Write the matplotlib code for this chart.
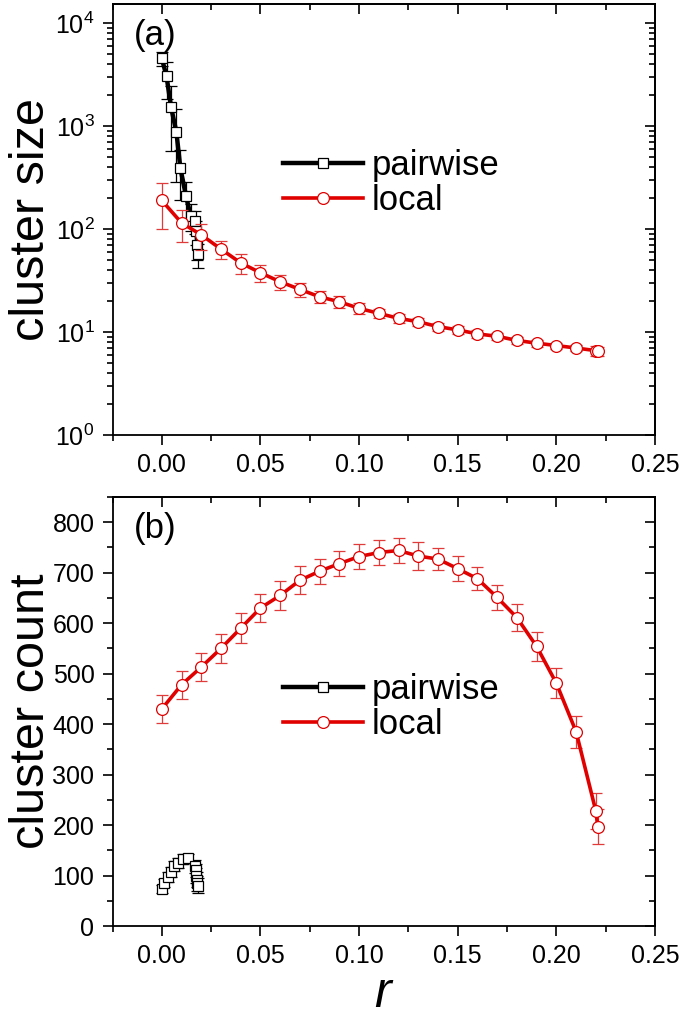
import matplotlib
matplotlib.use("Agg")
import matplotlib.pyplot as plt
from matplotlib.lines import Line2D
from matplotlib.ticker import MultipleLocator, LogLocator, NullFormatter

plt.rcParams['font.family'] = ['Liberation Sans', 'DejaVu Sans']
plt.rcParams['mathtext.fontset'] = 'custom'
plt.rcParams['mathtext.rm'] = 'Liberation Sans'
plt.rcParams['mathtext.it'] = 'Liberation Sans:italic'

# ---- data ----
local_r = [0.00, 0.01, 0.02, 0.03, 0.04, 0.05, 0.06, 0.07, 0.08, 0.09, 0.10, 0.11,
           0.12, 0.13, 0.14, 0.15, 0.16, 0.17, 0.18, 0.19, 0.20, 0.21, 0.22, 0.221]
local_size = [190, 115, 88, 64, 47, 37.7, 30.8, 26, 22, 19.7, 17, 15.2,
              13.6, 12.6, 11.3, 10.5, 9.6, 9.1, 8.3, 7.8, 7.4, 7.0, 6.6, 6.5]
local_size_err = [90, 40, 25, 13, 10, 7, 5, 4, 3, 2.5, 2, 1.6,
                  1.4, 1.2, 1.0, 0.9, 0.8, 0.7, 0.6, 0.6, 0.5, 0.5, 0.8, 0.6]
local_count = [430, 478, 513, 550, 590, 630, 655, 685, 703, 718, 732, 740,
               744, 733, 727, 708, 688, 651, 611, 554, 481, 385, 228, 197]
local_count_err = [28, 28, 28, 28, 30, 28, 28, 28, 25, 25, 25, 25,
                   25, 27, 21, 25, 23, 24, 27, 28, 30, 32, 35, 35]

pair_r_size = [0.0, 0.0024, 0.0047, 0.0074, 0.0094, 0.0123, 0.0146, 0.0169, 0.0175, 0.018, 0.0183]
pair_size = [4570, 3050, 1530, 875, 390, 209, 135, 120, 95, 70, 57]
pair_size_err = [700, 1200, 950, 590, 200, 80, 40, 30, 25, 20, 15]

pair_r_count = [0.0, 0.0013, 0.003, 0.0047, 0.0063, 0.0084, 0.0106, 0.0135, 0.0169,
                0.0172, 0.0175, 0.0178, 0.018, 0.0182]
pair_count = [73, 86, 97, 107, 118, 125, 133, 135, 118, 110, 100, 92, 85, 80]
pair_count_err = [8, 8, 10, 10, 10, 10, 10, 8, 12, 12, 15, 15, 15, 15]

W, H = 685, 1019
fig = plt.figure(figsize=(W / 100, H / 100), dpi=100)

def frac_axes(l, t, r, b):
    return [l / W, 1 - b / H, (r - l) / W, (b - t) / H]

ax1 = fig.add_axes(frac_axes(112.5, 4, 655, 435))
ax2 = fig.add_axes(frac_axes(112.5, 497, 655, 926))

RED = '#e00000'
ERR_RED = '#e03a3a'

for ax in (ax1, ax2):
    for s in ax.spines.values():
        s.set_linewidth(1.3)
    ax.tick_params(which='both', direction='out', top=False, right=False,
                   labelsize=18, width=1.2, pad=6)
    ax.tick_params(which='major', length=7)
    ax.tick_params(which='minor', length=4)

def draw(ax, lr, lv, le, pr, pv, pe, pair_line):
    ax.errorbar(pr, pv, yerr=pe, color='black', lw=3.2 if pair_line else 0,
                marker='s', ms=7, mfc='white', mec='black', mew=0.9,
                ecolor='black', elinewidth=0.9, capsize=4.5, capthick=0.9, zorder=3)
    ax.errorbar(lr, lv, yerr=le, color=RED, lw=2.6, marker='o', ms=8.5,
                mfc='white', mec=RED, mew=0.9, ecolor=ERR_RED, elinewidth=0.9,
                capsize=4.5, capthick=0.9, zorder=4)

draw(ax1, local_r, local_size, local_size_err, pair_r_size, pair_size, pair_size_err, True)
draw(ax2, local_r, local_count, local_count_err, pair_r_count, pair_count, pair_count_err, False)

for ax in (ax1, ax2):
    ax.set_xlim(-0.025, 0.25)
    ax.xaxis.set_major_locator(MultipleLocator(0.05))
    ax.xaxis.set_minor_locator(MultipleLocator(0.025))
    ax.xaxis.set_major_formatter(plt.FuncFormatter(lambda v, p: f"{v:.2f}"))

ax1.set_yscale('log')
ax1.set_ylim(1, 15400)
ax1.yaxis.set_major_locator(LogLocator(base=10, numticks=10))
ax1.yaxis.set_minor_locator(LogLocator(base=10, subs=range(2, 10), numticks=10))
ax1.yaxis.set_minor_formatter(NullFormatter())

ax2.set_ylim(0, 850)
ax2.yaxis.set_major_locator(MultipleLocator(100))
ax2.yaxis.set_minor_locator(MultipleLocator(50))

for ax in (ax1, ax2):
    sec_x = ax.secondary_xaxis('top')
    sec_x.xaxis.set_major_locator(MultipleLocator(0.05))
    sec_x.xaxis.set_minor_locator(MultipleLocator(0.025))
    sec_x.tick_params(which='both', direction='in', labeltop=False, width=1.2)
    sec_x.tick_params(which='major', length=7)
    sec_x.tick_params(which='minor', length=4)
    sec_x.spines['top'].set_linewidth(1.3)

sec_y1 = ax1.secondary_yaxis('right')
sec_y1.set_yscale('log')
sec_y1.yaxis.set_major_locator(LogLocator(base=10, numticks=10))
sec_y1.yaxis.set_minor_locator(LogLocator(base=10, subs=range(2, 10), numticks=10))
sec_y1.tick_params(which='both', direction='in', labelright=False, width=1.2)
sec_y1.tick_params(which='major', length=7)
sec_y1.tick_params(which='minor', length=4)
sec_y1.spines['right'].set_linewidth(1.3)

sec_y2 = ax2.secondary_yaxis('right')
sec_y2.yaxis.set_major_locator(MultipleLocator(100))
sec_y2.yaxis.set_minor_locator(MultipleLocator(50))
sec_y2.tick_params(which='both', direction='in', labelright=False, width=1.2)
sec_y2.tick_params(which='major', length=7)
sec_y2.tick_params(which='minor', length=4)
sec_y2.spines['right'].set_linewidth(1.3)

ax1.set_ylabel('cluster size', fontsize=35)
ax2.set_ylabel('cluster count', fontsize=35)
ax1.yaxis.set_label_coords(-0.108, 0.5)
ax2.yaxis.set_label_coords(-0.108, 0.5)
ax2.set_xlabel('$\\it{r}$', fontsize=36, va='baseline')
ax2.xaxis.set_label_coords(0.5, -0.188)

ax1.text(0.04, 0.965, '(a)', transform=ax1.transAxes, fontsize=25, va='top', ha='left')
ax2.text(0.04, 0.965, '(b)', transform=ax2.transAxes, fontsize=25, va='top', ha='left')

handles = [
    Line2D([], [], color='black', lw=3.2, marker='s', ms=7, mfc='white', mec='black', mew=0.9),
    Line2D([], [], color=RED, lw=2.6, marker='o', ms=8.5, mfc='white', mec=RED, mew=0.9),
]
labels = ['pairwise', 'local']
for ax, yc in ((ax1, 0.585), (ax2, 0.51)):
    ax.legend(handles, labels, loc='center left', bbox_to_anchor=(0.314, yc), frameon=False,
              fontsize=25, handlelength=2.3, handletextpad=0.25,
              borderpad=0, borderaxespad=0, labelspacing=0.05, numpoints=1)

fig.savefig('out.png', dpi=100)
